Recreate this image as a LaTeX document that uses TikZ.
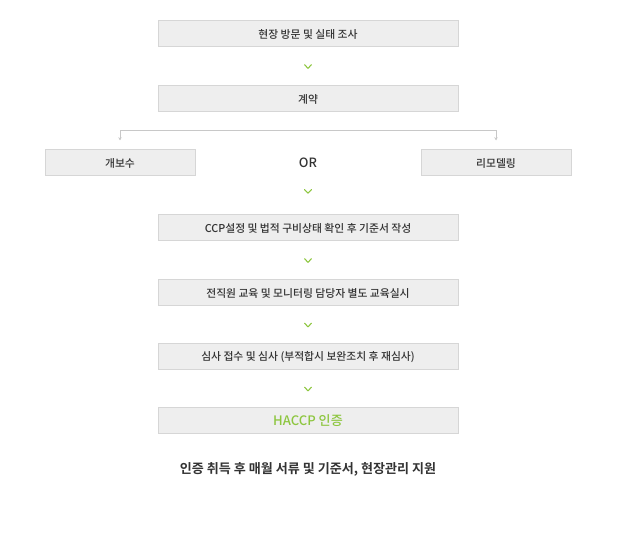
\documentclass[tikz,border=0pt]{standalone}
\usepackage{fontspec}
\setmainfont{Noto Sans CJK KR}
\newfontfamily\krbold{Noto Sans CJK KR Bold}
\newfontfamily\krmed{Noto Sans CJK KR Medium}
\usetikzlibrary{arrows.meta,calc}
\definecolor{boxfill}{HTML}{EEEEEE}
\definecolor{boxline}{HTML}{D6D6D6}
\definecolor{grn}{HTML}{8DC63F}
\definecolor{txt}{HTML}{333333}
\definecolor{conncol}{HTML}{C8C8C8}
\begin{document}
\begin{tikzpicture}[x=0.75pt,y=-0.75pt,
  stepbox/.style={draw=boxline, line width=0.75pt, fill=boxfill, minimum width=225pt, minimum height=19.5pt, inner sep=0pt, font=\krmed\fontsize{8.1}{9}\selectfont, text=txt},
  sidebox/.style={stepbox, minimum width=112.5pt},
  chev/.style={draw=grn, line width=0.8pt, line cap=round, line join=round},
  conn/.style={draw=conncol, line width=0.6pt, {Stealth[length=2.5pt,width=2.5pt]}-{Stealth[length=2.5pt,width=2.5pt]}}
]
\useasboundingbox (0,0) rectangle (629,545);

\node[stepbox] (s1) at (308,34) {현장 방문 및 실태 조사};
\node[stepbox] (s2) at (308,99) {계약};
\node[sidebox] (l) at (120,163) {개보수};
\node[sidebox] (r) at (496,163) {리모델링};
\node[text=txt, font=\krmed\fontsize{9.6}{11}\selectfont, inner sep=0pt] (or) at (308,163) {OR};
\node[stepbox] (s3) at (308,228) {CCP설정 및 법적 구비상태 확인 후 기준서 작성};
\node[stepbox] (s4) at (308,293) {전직원 교육 및 모니터링 담당자 별도 교육실시};
\node[stepbox] (s5) at (308,357) {심사 접수 및 심사 (부적합시 보완조치 후 재심사)};
\node[stepbox, text=grn, font=\krmed\fontsize{9.8}{11}\selectfont] (s6) at (308,421) {HACCP 인증};
\node[text=txt, font=\krbold\fontsize{9.8}{11}\selectfont, inner sep=0pt] (note) at (308,469) {인증 취득 후 매월 서류 및 기준서, 현장관리 지원};

% chevrons
\foreach \a/\b in {s1/s2, or/s3, s3/s4, s4/s5, s5/s6}{
  \coordinate (m) at ($(\a.south)!0.5!(\b.north)$);
  \draw[chev] ($(m)+(-3.5,-1.8)$) -- ($(m)+(0,1.8)$) -- ($(m)+(3.5,-1.8)$);
}
% branch connector
\coordinate (jl) at ($(l.north)+(0,-19)$);
\coordinate (jr) at ($(r.north)+(0,-19)$);
\draw[conn] ($(l.north)+(0,-9)$) -- (jl) -- (jr) -- ($(r.north)+(0,-9)$);
\end{tikzpicture}
\end{document}
